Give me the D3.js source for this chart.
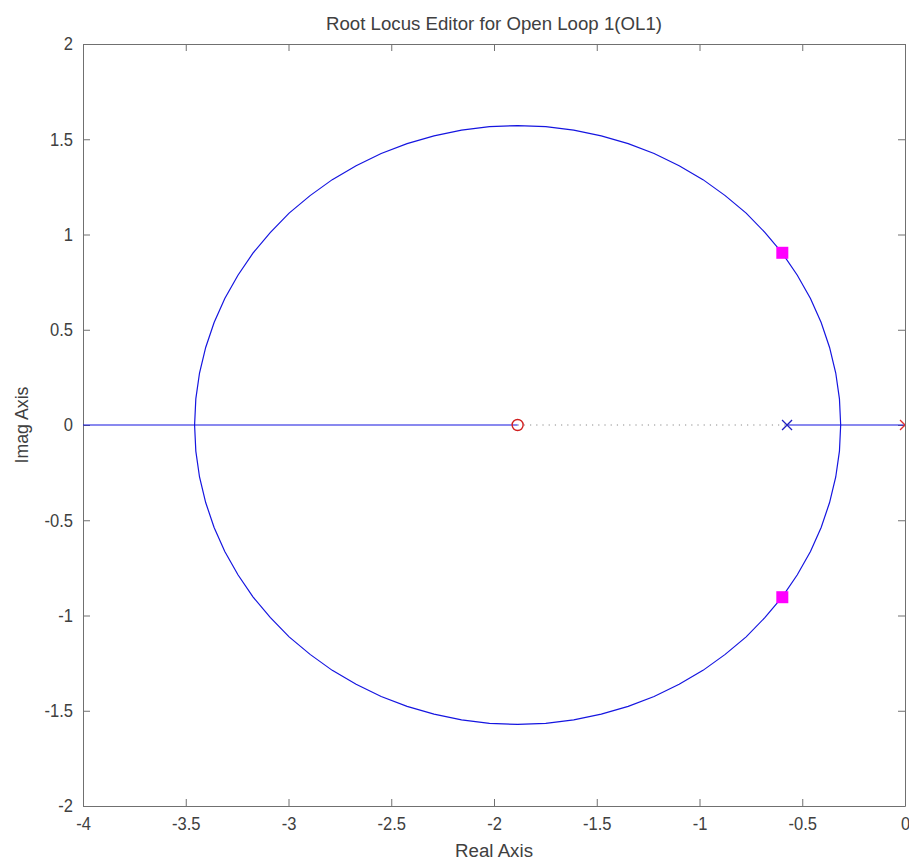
<!DOCTYPE html>
<html>
<head>
<meta charset="utf-8">
<script src="https://cdn.jsdelivr.net/npm/d3@7"></script>
<style>
  body { margin: 0; background: #fff; }
  text { font-family: "Liberation Sans", Arial, sans-serif; fill: #404040; }
</style>
</head>
<body>
<svg id="chart" width="909" height="862"></svg>
<script>
// 軸の目盛り
var xTicks = [-4, -3.5, -3, -2.5, -2, -1.5, -1, -0.5, 0];
var yTicks = [-2, -1.5, -1, -0.5, 0, 0.5, 1, 1.5, 2];

// 根軌跡（上側の枝、下側は共役）
var locusRe = [-0.313, -0.319, -0.337, -0.367, -0.408, -0.460, -0.524, -0.597, -0.681, -0.773,
               -0.875, -0.983, -1.099, -1.221, -1.347, -1.478, -1.612, -1.748, -1.885,
               -2.022, -2.158, -2.292, -2.423, -2.549, -2.671, -2.787, -2.895, -2.997,
               -3.089, -3.173, -3.246, -3.310, -3.362, -3.403, -3.433, -3.451, -3.457];
var locusIm = [0, 0.137, 0.273, 0.407, 0.538, 0.664, 0.786, 0.902, 1.010, 1.112,
               1.204, 1.288, 1.361, 1.425, 1.477, 1.518, 1.548, 1.566, 1.572,
               1.566, 1.548, 1.518, 1.477, 1.425, 1.361, 1.288, 1.204, 1.112,
               1.010, 0.902, 0.786, 0.664, 0.538, 0.407, 0.273, 0.137, 0];

// 実軸上の軌跡
var realSegments = [[-4, -1.885], [-0.574, 0]];
var dottedSegment = [-1.885, -0.574];

// 極・零点・閉ループ極
var plantPoles = [-0.574];
var compPoles = [0];
var compZeros = [-1.885];
var closedLoop = [[-0.597, 0.904], [-0.597, -0.904]];

var svg = d3.select("#chart");
var margin = {left: 83, right: 4, top: 44, bottom: 56};
var width = 909 - margin.left - margin.right,
    height = 862 - margin.top - margin.bottom;

var x = d3.scaleLinear().domain([-4, 0]).range([margin.left, margin.left + width]);
var y = d3.scaleLinear().domain([-2, 2]).range([margin.top + height, margin.top]);

var axColor = "#707070";
var blue = "#1515e0";

// クリップ
svg.append("clipPath").attr("id", "clip")
  .append("rect").attr("x", margin.left).attr("y", margin.top)
  .attr("width", width).attr("height", height);

// 軸（内向きの目盛り）
var tickFmt = function(d) { return d3.format("")(d).replace("−", "-"); };
svg.append("g").attr("transform", "translate(0," + (margin.top + height) + ")")
  .call(d3.axisBottom(x).tickValues(xTicks).tickSizeInner(-7).tickSizeOuter(0).tickPadding(11).tickFormat(tickFmt));
svg.append("g").attr("transform", "translate(0," + margin.top + ")")
  .call(d3.axisTop(x).tickValues(xTicks).tickSizeInner(-7).tickSizeOuter(0).tickFormat(""));
svg.append("g").attr("transform", "translate(" + margin.left + ",0)")
  .call(d3.axisLeft(y).tickValues(yTicks).tickSizeInner(-7).tickSizeOuter(0).tickPadding(10).tickFormat(tickFmt));
svg.append("g").attr("transform", "translate(" + (margin.left + width) + ",0)")
  .call(d3.axisRight(y).tickValues(yTicks).tickSizeInner(-7).tickSizeOuter(0).tickFormat(""));

svg.selectAll(".domain").attr("stroke", axColor);
svg.selectAll(".tick line").attr("stroke", axColor);
svg.selectAll(".tick text").style("font-size", "18px").attr("fill", "#404040")
  .attr("transform", "scale(0.92,1)");
svg.selectAll(".tick text").each(function() {
  // scaleで縮めた分を戻す
  var t = d3.select(this);
  var xx = +t.attr("x") || 0;
  t.attr("x", xx / 0.92);
});

var plot = svg.append("g").attr("clip-path", "url(#clip)");

// 実軸上の点線
plot.append("line")
  .attr("x1", x(dottedSegment[0])).attr("x2", x(dottedSegment[1]))
  .attr("y1", y(0)).attr("y2", y(0))
  .attr("stroke", "#8a8a8a").attr("stroke-dasharray", "1.2,5");

// 実軸上の軌跡
plot.selectAll(".realseg").data(realSegments).enter().append("line")
  .attr("x1", function(d) { return x(d[0]); })
  .attr("x2", function(d) { return x(d[1]); })
  .attr("y1", y(0)).attr("y2", y(0))
  .attr("stroke", blue).attr("stroke-width", 1.2);

// 円弧の軌跡
var pts = locusRe.map(function(r, i) { return [r, locusIm[i]]; });
var line = d3.line().x(function(d) { return x(d[0]); }).y(function(d) { return y(d[1]); });
[1, -1].forEach(function(s) {
  plot.append("path")
    .attr("d", line(pts.map(function(p) { return [p[0], s * p[1]]; })))
    .attr("fill", "none").attr("stroke", blue).attr("stroke-width", 1.2);
});

// ×印
function cross(g, cx, cy, sz, col) {
  g.append("path")
    .attr("d", "M" + (cx - sz) + "," + (cy - sz) + "L" + (cx + sz) + "," + (cy + sz) +
               "M" + (cx - sz) + "," + (cy + sz) + "L" + (cx + sz) + "," + (cy - sz))
    .attr("stroke", col).attr("stroke-width", 1.3).attr("fill", "none");
}
plantPoles.forEach(function(p) { cross(plot, x(p), y(0), 5, "#2020c0"); });
compPoles.forEach(function(p) { cross(plot, x(p), y(0), 5, "#e03030"); });

compZeros.forEach(function(z) {
  plot.append("circle").attr("cx", x(z)).attr("cy", y(0)).attr("r", 5.5)
    .attr("fill", "none").attr("stroke", "#d02020").attr("stroke-width", 1.4);
});

// 閉ループ極
svg.selectAll(".clp").data(closedLoop).enter().append("rect")
  .attr("x", function(d) { return x(d[0]) - 6; })
  .attr("y", function(d) { return y(d[1]) - 6; })
  .attr("width", 12).attr("height", 12)
  .attr("fill", "#ff00ff");

// タイトル・ラベル
svg.append("text").attr("x", margin.left + width / 2).attr("y", 30)
  .attr("text-anchor", "middle").style("font-size", "19px")
  .attr("textLength", 336).attr("lengthAdjust", "spacingAndGlyphs")
  .text("Root Locus Editor for Open Loop 1(OL1)");
svg.append("text").attr("x", margin.left + width / 2).attr("y", 857)
  .attr("text-anchor", "middle").style("font-size", "18px")
  .attr("textLength", 78).attr("lengthAdjust", "spacingAndGlyphs")
  .text("Real Axis");
svg.append("text").attr("transform", "translate(28," + y(0) + ") rotate(-90)")
  .attr("text-anchor", "middle").style("font-size", "18px")
  .attr("textLength", 77).attr("lengthAdjust", "spacingAndGlyphs")
  .text("Imag Axis");
</script>
</body>
</html>
